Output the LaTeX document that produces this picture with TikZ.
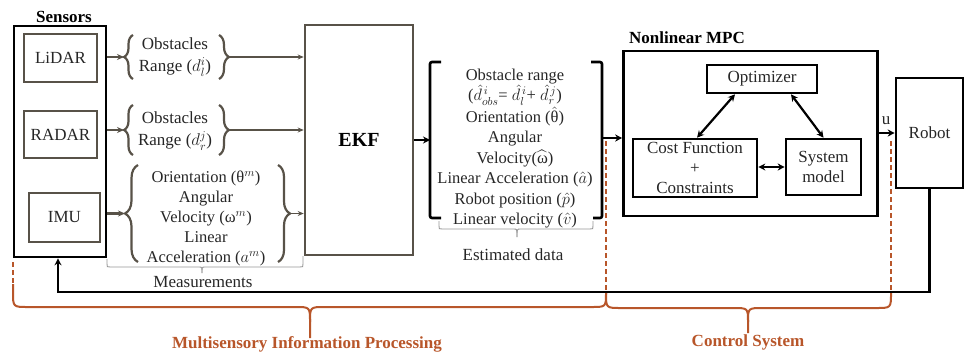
\documentclass[tikz,border=0pt]{standalone}
\usepackage{fix-cm}
\usepackage{amsmath}
\usepackage{fontspec}
\setmainfont{Liberation Serif}
\usetikzlibrary{arrows.meta,decorations.pathreplacing}

\definecolor{boxgray}{RGB}{88,82,72}
\definecolor{ink}{RGB}{38,38,38}
\definecolor{rust}{RGB}{184,86,42}
\definecolor{thingray}{RGB}{150,150,150}

\tikzset{
  blk/.style={draw=black, line width=2.6pt},
  gbox/.style={draw=boxgray, line width=2.6pt},
  txt/.style={font=\fontsize{17}{21}\selectfont, text=ink, align=center, inner sep=0pt},
  ttl/.style={font=\fontsize{17}{20}\selectfont\bfseries, text=black, inner sep=0pt},
  brc/.style={decorate, decoration={brace, amplitude=#1}, draw=boxgray, line width=2.2pt},
  garr/.style={-{Stealth[length=7pt,width=6pt]}, draw=boxgray, line width=2.4pt},
  tarr/.style={-{Stealth[length=6pt,width=5pt]}, draw=boxgray, line width=1.4pt},
  karr/.style={-{Stealth[length=7pt,width=7pt]}, draw=black, line width=2.6pt},
  dkarr/.style={{Stealth[length=7pt,width=7pt]}-{Stealth[length=7pt,width=7pt]}, draw=black, line width=2.2pt},
  rustline/.style={draw=rust, line width=2pt},
  rustdash/.style={draw=rust, line width=2pt, dash pattern=on 5pt off 3pt},
  rustlbl/.style={font=\fontsize{17}{20}\selectfont\bfseries, text=rust, inner sep=0pt},
  thinbr/.style={draw=thingray, line width=0.9pt},
}

\begin{document}
\begin{tikzpicture}[x=1pt,y=-1pt]
\useasboundingbox (0,0) rectangle (965,356);

% ---------------- sensors ----------------
\node[blk, minimum width=92pt, minimum height=231pt] (sensors) at (60,141.5) {};
\node[ttl] (sensorsT) at (64,17) {Sensors};
\node[gbox, txt, minimum width=73pt, minimum height=48pt] (lidar) at (60.5,58) {LiDAR};
\node[gbox, txt, minimum width=73pt, minimum height=47pt] (radar) at (60.5,134.5) {RADAR};
\node[gbox, txt, minimum width=71pt, minimum height=49pt] (imu) at (64.5,217.5) {IMU};

% ---------------- EKF ----------------
\node[gbox, minimum width=108pt, minimum height=230pt,
      font=\fontsize{20}{22}\selectfont\bfseries, inner sep=0pt] (ekf) at (359,140) {EKF};

% ---------------- raw measurements ----------------
\node[txt, font=\fontsize{17}{22}\selectfont] (obsL) at (175,57) {Obstacles\\Range (\(d_l^i\))};
\node[txt, font=\fontsize{17}{22}\selectfont] (obsR) at (175,131) {Obstacles\\Range (\(d_r^j\))};
\node[txt, font=\fontsize{16.5}{20}\selectfont] (imuT) at (206,218)
  {Orientation (θ\(^m\))\\Angular\\Velocity (ω\(^m\))\\Linear\\Acceleration (\(a^m\))};

\coordinate (lidarIn) at (124,57);  \coordinate (lidarOut) at (229,57);
\coordinate (radarIn) at (124,130); \coordinate (radarOut) at (229,130);
\coordinate (imuIn) at (125,213.5); \coordinate (imuOut) at (290,213.5);

\draw[brc=9pt] (133,79) -- (133,35);
\draw[brc=10pt] (219,35) -- (219,79);
\draw[brc=9pt] (133,155) -- (133,105);
\draw[brc=10pt] (219,105) -- (219,155);
\draw[brc=13pt] (138,262) -- (138,165);
\draw[brc=12pt] (278,165) -- (278,262);

\draw[garr] (sensors.east |- lidarIn) -- (lidarIn);
\draw[garr] (sensors.east |- radarIn) -- (radarIn);
\draw[garr] (sensors.east |- imuIn) -- (imuIn);
\draw[tarr] (lidarOut) -- (ekf.west |- lidarOut);
\draw[tarr] (radarOut) -- (ekf.west |- radarOut);
\draw[tarr] (imuOut) -- (ekf.west |- imuOut);

% measurements bracket
\draw[thinbr] (107,259) -- (107,264) .. controls (107,267) .. (110,267) -- (199,267)
  .. controls (202,267) .. (202,273);
\draw[thinbr] (202,273) .. controls (202,267) .. (205,267) -- (300,267)
  .. controls (303,267) .. (303,264) -- (303,256);
\node[txt] (meas) at (203,282) {Measurements};

% ---------------- estimated state ----------------
\node[txt, font=\fontsize{16.5}{20.4}\selectfont] (est) at (515,148.5)
  {Obstacle range\\
   (\(\hat{d}^{\,i}_{obs}\)= \(\hat{d}^{\,i}_{l}\)+ \(\hat{d}^{\,j}_{r}\))\\
   Orientation (\(\hat{\text{θ}}\))\\
   Angular\\
   Velocity(\(\widehat{\text{ω}}\))\\
   Linear Acceleration (\(\hat{a}\))\\
   Robot position (\(\hat{p}\))\\
   Linear velocity (\(\hat{v}\))};

\draw[blk, rounded corners=2pt] (441,62) -- (430,62) -- (430,218) -- (441,218);
\draw[blk, rounded corners=2pt] (591,62) -- (602,62) -- (602,218) -- (593,218);

\draw[thinbr] (439,221) -- (439,226) .. controls (439,229) .. (442,229) -- (514,229)
  .. controls (517,229) .. (517,237);
\draw[thinbr] (517,237) .. controls (517,229) .. (520,229) -- (590,229)
  .. controls (593,229) .. (593,226) -- (593,221);
\node[txt] (estT) at (513,255) {Estimated data};

\coordinate (estIn) at (430,140);
\coordinate (estOut) at (602,138);
\draw[karr] (ekf.east |- estIn) -- (estIn);

% ---------------- nonlinear MPC ----------------
\node[ttl] (mpcT) at (687,38) {Nonlinear MPC};
\node[blk, minimum width=254pt, minimum height=165pt] (mpc) at (750.5,133.5) {};
\node[blk, txt, minimum width=110pt, minimum height=28pt] (opt) at (762,79) {Optimizer};
\node[blk, txt, font=\fontsize{17}{20}\selectfont, minimum width=124pt, minimum height=58pt]
  (cost) at (695,168) {Cost Function\\+\\Constraints};
\node[blk, txt, font=\fontsize{17}{20}\selectfont, minimum width=75pt, minimum height=56pt]
  (sys) at (823.5,167) {System\\model};

\draw[dkarr] ([xshift=-27pt]opt.south) -- ([xshift=2pt]cost.north);
\draw[dkarr] ([xshift=29pt]opt.south) -- (sys.north);
\draw[dkarr] (cost.east |- sys) -- (sys.west);

\draw[karr] (estOut) -- (mpc.west |- estOut);

% ---------------- robot ----------------
\node[blk, txt, minimum width=67pt, minimum height=110pt] (robot) at (929.5,133) {Robot};
\draw[karr, line width=2.4pt] (mpc.east |- robot) -- (robot.west);
\node[txt] (u) at (886,121) {u};

% feedback path
\coordinate (fb) at (58,292);
\draw[karr, line width=2.4pt] (robot.south) |- (fb) -- (fb |- sensors.south);

% ---------------- subsystem braces ----------------
\draw[rustdash] (13,262) -- (13,284);
\draw[rustdash] (606,141) -- (606,293);
\draw[rustdash] (891,141) -- (891,293);

\coordinate (tipA) at (310,338);
\coordinate (tipB) at (748,333);
\draw[rustline] (13,284) -- (13,292) .. controls (13,307) .. (28,307) -- (295,307)
  .. controls (310,307) .. (310,322) -- (tipA);
\draw[rustline] (310,322) .. controls (310,307) .. (325,307) -- (591,307)
  .. controls (606,307) .. (606,293);
\draw[rustline] (606,293) .. controls (606,308) .. (621,308) -- (733,308)
  .. controls (748,308) .. (748,322) -- (tipB);
\draw[rustline] (748,322) .. controls (748,308) .. (763,308) -- (876,308)
  .. controls (891,308) .. (891,293);

\node[rustlbl] (msip) at (307,344) {Multisensory Information Processing};
\node[rustlbl] (ctrl) at (748,342) {Control System};
\end{tikzpicture}
\end{document}
